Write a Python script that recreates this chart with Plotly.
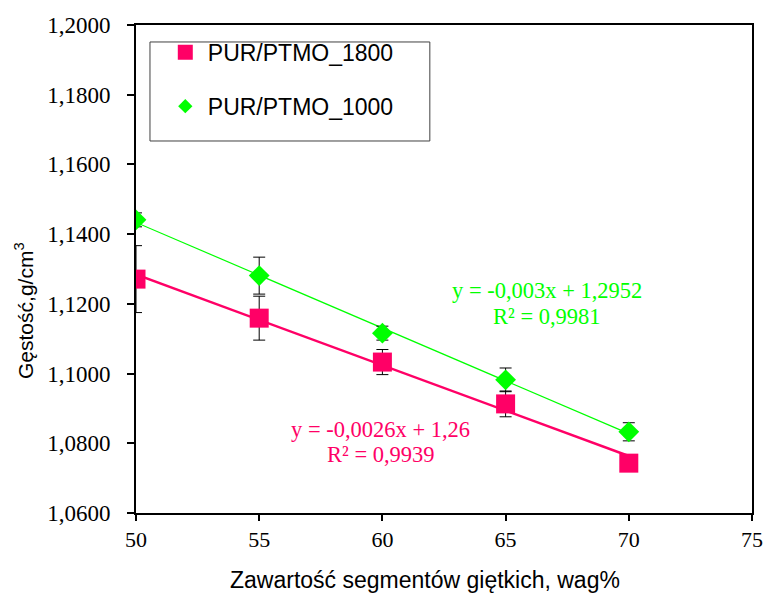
import numpy as np
import plotly.graph_objects as go

# Soft-segment content (wt%) and measured densities (g/cm3) with standard deviations
soft_segment = [50, 55, 60, 65, 70]
density_1800 = [1.1271, 1.1159, 1.1033, 1.0913, 1.0743]
std_1800 = [0.0096, 0.0063, 0.0036, 0.0037, 0.0020]
density_1000 = [1.1441, 1.1281, 1.1116, 1.0982, 1.0833]
std_1000 = [0.0020, 0.0053, 0.0020, 0.0034, 0.0026]

series_names = ["PUR/PTMO_1800", "PUR/PTMO_1000"]
eq_1800 = ["y = -0,0026x + 1,26", "R² = 0,9939"]
eq_1000 = ["y = -0,003x + 1,2952", "R² = 0,9981"]

y_ticks = [1.06, 1.08, 1.10, 1.12, 1.14, 1.16, 1.18, 1.20]
x_ticks = [50, 55, 60, 65, 70, 75]

PINK = "#FF0066"
GREEN = "#00FF00"
SERIF = "Liberation Serif, Times New Roman, serif"
SANS = "Liberation Sans, Arial, sans-serif"

fig = go.Figure()

# Linear trendlines fitted to each series
for dens, color, width in [(density_1800, PINK, 2.5), (density_1000, GREEN, 1.2)]:
    slope, intercept = np.polyfit(soft_segment, dens, 1)
    xs = np.array([soft_segment[0], soft_segment[-1]])
    fig.add_trace(go.Scatter(
        x=xs, y=slope * xs + intercept, mode="lines",
        line=dict(color=color, width=width),
        showlegend=False, hoverinfo="skip",
    ))

# Measured points with error bars
fig.add_trace(go.Scatter(
    x=soft_segment, y=density_1800, mode="markers", name=series_names[0],
    marker=dict(symbol="square", size=19, color=PINK), showlegend=False,
    error_y=dict(type="data", array=std_1800, color="black", thickness=1, width=6),
))
fig.add_trace(go.Scatter(
    x=soft_segment, y=density_1000, mode="markers", name=series_names[1],
    marker=dict(symbol="diamond", size=16, color=GREEN), showlegend=False,
    error_y=dict(type="data", array=std_1000, color="black", thickness=1, width=6),
))

# Legend entries with smaller symbols
fig.add_trace(go.Scatter(x=[None], y=[None], mode="markers", name=series_names[0],
                         legendgroup="g1800",
                         marker=dict(symbol="square", size=15, color=PINK)))
fig.add_trace(go.Scatter(x=[None], y=[None], mode="markers", name=series_names[1],
                         legendgroup="g1000",
                         marker=dict(symbol="diamond", size=11, color=GREEN)))

# Trendline equations
for (x, y0, y1), lines, color in [((59.94, 1.0840, 1.0767), eq_1800, PINK),
                                  ((66.68, 1.1238, 1.1163), eq_1000, GREEN)]:
    for yy, txt in zip((y0, y1), lines):
        fig.add_annotation(x=x, y=yy, text=txt, showarrow=False,
                           xanchor="center", yanchor="middle",
                           font=dict(family=SERIF, size=22.5, color=color))

# Axis titles
fig.add_annotation(xref="paper", yref="paper", x=-0.1818, y=0.414,
                   xanchor="center", yanchor="middle",
                   text="Gęstość,g/cm<sup>3</sup>", textangle=-90, showarrow=False,
                   font=dict(family=SANS, size=21, color="black"))
fig.add_annotation(xref="paper", yref="paper", x=0.469, y=-0.137,
                   xanchor="center", yanchor="middle",
                   text="Zawartość segmentów giętkich, wag%", showarrow=False,
                   font=dict(family=SANS, size=23, color="black"))

# Legend frame
fig.add_shape(type="rect", xref="paper", yref="paper",
              x0=0.0227, x1=0.477, y0=0.7623, y1=0.9652,
              line=dict(color="#404040", width=1), fillcolor="white", layer="below")

fig.update_layout(
    width=765, height=597,
    margin=dict(l=136, r=13, t=25, b=84),
    paper_bgcolor="white", plot_bgcolor="white",
    separators=", ",
    font=dict(family=SANS, color="black"),
    showlegend=True,
    legend=dict(x=0.0435, y=0.988, xanchor="left", yanchor="top",
                bgcolor="rgba(0,0,0,0)", borderwidth=0,
                font=dict(family=SANS, size=23, color="black"),
                tracegroupgap=21, itemwidth=35),
    xaxis=dict(
        range=[50, 75], tickvals=x_ticks, showgrid=False, zeroline=False,
        showline=True, linecolor="black", linewidth=2, mirror=True,
        ticks="outside", ticklen=6, tickwidth=1.5, tickcolor="black",
        tickfont=dict(family=SERIF, size=22), automargin=False,
    ),
    yaxis=dict(
        range=[1.06, 1.20], tickvals=y_ticks, tickformat=".4f",
        showgrid=False, zeroline=False,
        showline=True, linecolor="black", linewidth=2, mirror=True,
        ticks="outside", ticklen=7, tickwidth=1.5, tickcolor="black",
        tickfont=dict(family=SERIF, size=23), ticklabelstandoff=12,
        automargin=False,
    ),
)

fig.write_html("out.html")
